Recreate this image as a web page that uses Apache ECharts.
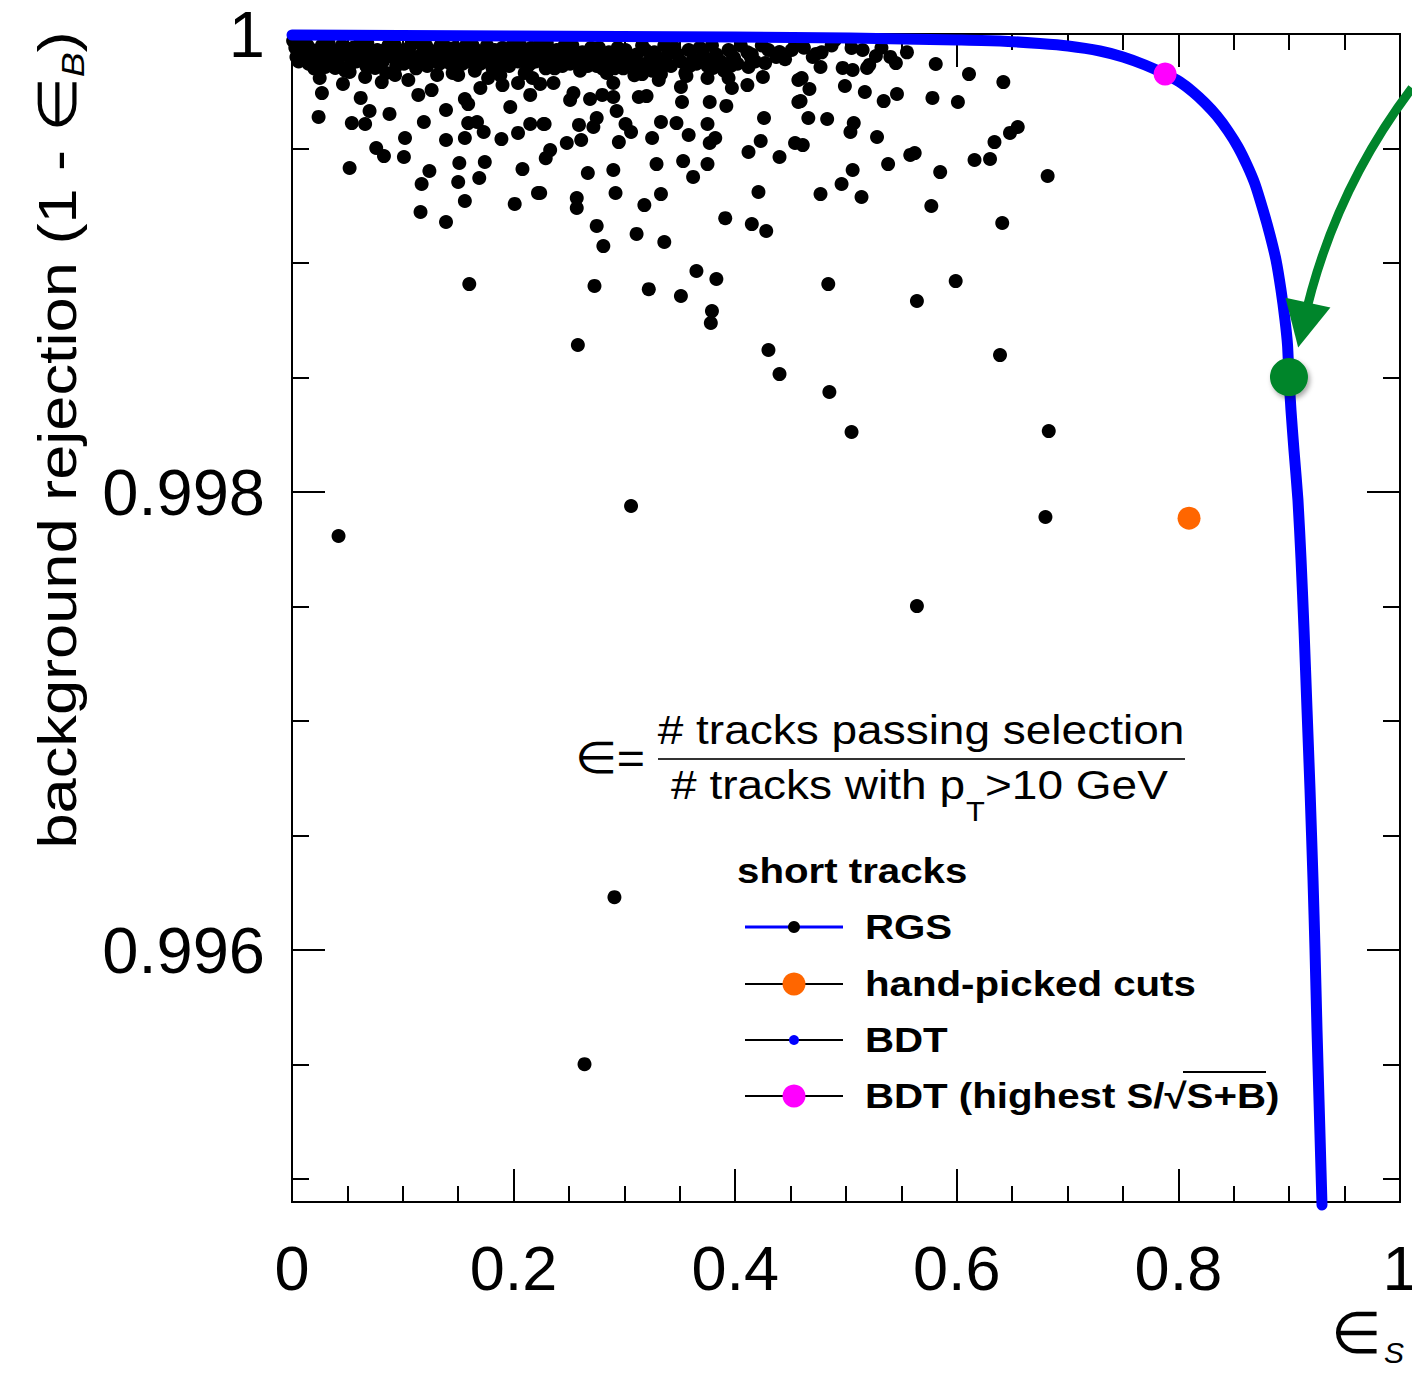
<!DOCTYPE html>
<html><head><meta charset="utf-8">
<script src="https://cdn.jsdelivr.net/npm/echarts@6/dist/echarts.min.js"></script>
<style>html,body{margin:0;padding:0;background:#fff}#c{width:1412px;height:1374px}</style>
</head><body><div id="c"></div>
<script>
// ---- data ----
const xMajorTicks = [0, 0.2, 0.4, 0.6, 0.8, 1];
const yLabelValues = [0.996, 0.998, 1];
const yMinorValues = [0.995, 0.9955, 0.9965, 0.997, 0.9975, 0.9985, 0.999, 0.9995];

// RGS cut points (signal efficiency, background rejection)
const rgsBand = [
 [0.003,0.99994],[0.004,0.99990],[0.010,0.99996],[0.012,0.99989],[0.018,0.99993],[0.021,0.99988],[0.027,0.99995],[0.031,0.99990],
 [0.036,0.99993],[0.041,0.99988],[0.045,0.99995],[0.049,0.99991],[0.055,0.99994],[0.058,0.99988],[0.063,0.99992],[0.068,0.99996],
 [0.072,0.99989],[0.077,0.99993],[0.082,0.99988],[0.087,0.99995],[0.091,0.99990],[0.096,0.99993],[0.101,0.99987],[0.106,0.99994],
 [0.110,0.99990],[0.115,0.99996],[0.119,0.99988],[0.124,0.99993],[0.129,0.99989],[0.134,0.99995],[0.138,0.99991],[0.143,0.99987],
 [0.147,0.99994],[0.152,0.99990],[0.157,0.99995],[0.161,0.99988],[0.166,0.99993],[0.171,0.99989],[0.176,0.99995],[0.180,0.99991],
 [0.185,0.99987],[0.190,0.99994],[0.194,0.99990],[0.199,0.99995],[0.204,0.99988],[0.208,0.99993],[0.213,0.99986],[0.218,0.99991],
 [0.223,0.99995],[0.227,0.99988],[0.232,0.99993],[0.237,0.99985],[0.241,0.99990],[0.246,0.99995],[0.251,0.99987],[0.256,0.99992],
 [0.260,0.99984],[0.265,0.99989],[0.270,0.99994],[0.275,0.99986],[0.279,0.99991],[0.284,0.99983],[0.289,0.99988],[0.294,0.99994],
 [0.299,0.99985],[0.304,0.99990],[0.309,0.99982],[0.314,0.99987],[0.319,0.99993],[0.325,0.99984],[0.330,0.99989],[0.336,0.99995],
 [0.342,0.99986],[0.348,0.99991],[0.355,0.99983],[0.362,0.99989],[0.368,0.99994],[0.375,0.99986],[0.383,0.99991],[0.390,0.99984],
 [0.398,0.99990],[0.405,0.99995],[0.418,0.99988],[0.430,0.99993],[0.445,0.99989],[0.462,0.99994],[0.478,0.99992],
 [0.020,0.99985],[0.048,0.99984],[0.085,0.99983],[0.112,0.99985],[0.145,0.99983],[0.165,0.99984],[0.188,0.99982],[0.210,0.99983],
 [0.001,0.99997],[0.007,0.99992],[0.014,0.99995],[0.016,0.99991],[0.024,0.99992],[0.033,0.99996],[0.038,0.99990],[0.043,0.99992],
 [0.052,0.99990],[0.060,0.99995],[0.066,0.99990],[0.070,0.99993],[0.079,0.99990],[0.084,0.99993],[0.093,0.99995],[0.098,0.99989],
 [0.103,0.99992],[0.108,0.99996],[0.117,0.99991],[0.121,0.99995],[0.126,0.99990],[0.131,0.99992],[0.136,0.99988],[0.140,0.99994],
 [0.149,0.99991],[0.154,0.99987],[0.159,0.99992],[0.163,0.99995],[0.168,0.99990],[0.173,0.99992],[0.178,0.99988],[0.183,0.99993],
 [0.187,0.99990],[0.192,0.99987],[0.197,0.99992],[0.201,0.99990],[0.206,0.99995],[0.211,0.99990],[0.216,0.99994],[0.220,0.99988],
 [0.225,0.99991],[0.230,0.99996],[0.234,0.99989],[0.239,0.99993],[0.244,0.99988],[0.248,0.99992],[0.253,0.99995],[0.258,0.99988],
 [0.262,0.99992],[0.267,0.99986],[0.272,0.99990],[0.277,0.99994],[0.282,0.99988],[0.286,0.99992],[0.291,0.99985],[0.296,0.99990],
 [0.301,0.99993],[0.306,0.99987],[0.311,0.99991],[0.316,0.99995],[0.322,0.99988],[0.327,0.99992],[0.333,0.99986],[0.339,0.99991],
 [0.345,0.99994],[0.351,0.99988],[0.358,0.99993],[0.365,0.99987],[0.371,0.99991],[0.379,0.99995],[0.387,0.99988],[0.394,0.99993],
 [0.402,0.99987],[0.411,0.99992],[0.424,0.99995],[0.437,0.99990],[0.451,0.99993],[0.470,0.99990],[0.487,0.99995],[0.515,0.99993],
 [0.532,0.99994],[0.555,0.99992],
 [0.006,0.99988],[0.015,0.99987],[0.028,0.99988],[0.039,0.99986],[0.053,0.99987],[0.067,0.99986],[0.075,0.99987],[0.094,0.99986],
 [0.107,0.99988],[0.122,0.99986],[0.133,0.99987],[0.150,0.99986],[0.170,0.99987],[0.181,0.99985],[0.196,0.99986],[0.215,0.99987],
 [0.229,0.99985],[0.244,0.99986],[0.263,0.99987],[0.280,0.99985],[0.297,0.99988],[0.317,0.99985],[0.337,0.99987],[0.359,0.99986],
 [0.378,0.99989],[0.396,0.99986],[0.415,0.99991]
];
const rgsScatter = [
 [0.025,0.999808],[0.027,0.999742],[0.024,0.999638],[0.046,0.999782],[0.062,0.999721],[0.070,0.999664],[0.054,0.999611],[0.066,0.999607],
 [0.088,0.999651],[0.076,0.999502],[0.083,0.999467],[0.052,0.999415],[0.102,0.999546],[0.101,0.999463],[0.119,0.999616],[0.124,0.999402],
 [0.117,0.999345],[0.116,0.999223],[0.139,0.999179],[0.139,0.999668],[0.139,0.999537],[0.156,0.999546],[0.151,0.999437],[0.150,0.999354],
 [0.156,0.999271],[0.174,0.999441],[0.169,0.999371],[0.201,0.999258],[0.208,0.999410],[0.222,0.999306],[0.156,0.999716],[0.159,0.999694],
 [0.159,0.999611],[0.167,0.999616],[0.173,0.999572],[0.189,0.999541],[0.197,0.999681],[0.204,0.999568],[0.215,0.999607],[0.227,0.999607],
 [0.215,0.999734],[0.170,0.999764],[0.066,0.999812],[0.081,0.999790],[0.093,0.999821],[0.105,0.999799],[0.114,0.999734],[0.126,0.999755],
 [0.131,0.999821],[0.150,0.999821],[0.177,0.999808],[0.190,0.999777],[0.204,0.999786],[0.217,0.999808],[0.039,0.999852],[0.030,0.999856],
 [0.052,0.999834],[0.075,0.999852],
 [0.228,0.999607],[0.233,0.999493],[0.229,0.999458],[0.224,0.999306],[0.248,0.999524],[0.261,0.999537],[0.259,0.999603],[0.272,0.999594],
 [0.275,0.999633],[0.251,0.999712],[0.254,0.999742],[0.269,0.999716],[0.280,0.999734],[0.290,0.999725],[0.236,0.999786],[0.224,0.999782],
 [0.267,0.999393],[0.290,0.999406],[0.292,0.999306],[0.257,0.999284],[0.257,0.999240],[0.275,0.999162],[0.281,0.999074],[0.293,0.999664],
 [0.301,0.999607],[0.306,0.999572],[0.295,0.999528],[0.290,0.999786],[0.316,0.999825],[0.313,0.999725],[0.320,0.999729],[0.333,0.999825],
 [0.331,0.999799],[0.333,0.999616],[0.347,0.999611],[0.325,0.999546],[0.329,0.999432],[0.333,0.999301],[0.318,0.999253],[0.311,0.999127],
 [0.336,0.999092],[0.352,0.999703],[0.351,0.999769],[0.356,0.999817],[0.358,0.999559],[0.353,0.999445],[0.362,0.999376],[0.375,0.999432],
 [0.375,0.999607],[0.377,0.999524],[0.382,0.999546],[0.377,0.999703],[0.375,0.999808],[0.380,0.999852],[0.392,0.999686],[0.394,0.999808],
 [0.397,0.999764],[0.399,0.999895],[0.411,0.999777],[0.412,0.999856],[0.414,0.999900],[0.425,0.999812],[0.427,0.999873],[0.426,0.999633],
 [0.423,0.999533],[0.412,0.999485],[0.440,0.999463],[0.421,0.999310],[0.391,0.999196],[0.415,0.999170],[0.428,0.999140],[0.454,0.999524],
 [0.457,0.999703],[0.457,0.999799],[0.440,0.999921],[0.454,0.999952],
 [0.473,0.999913],[0.477,0.999856],[0.460,0.999808],[0.467,0.999760],[0.459,0.999707],[0.466,0.999633],[0.483,0.999629],[0.461,0.999515],
 [0.505,0.999939],[0.497,0.999852],[0.506,0.999843],[0.519,0.999852],[0.521,0.999865],[0.527,0.999904],[0.540,0.999900],[0.545,0.999873],
 [0.499,0.999773],[0.517,0.999747],[0.534,0.999707],[0.546,0.999738],[0.507,0.999611],[0.504,0.999572],[0.528,0.999550],[0.506,0.999406],
 [0.496,0.999345],[0.477,0.999301],[0.514,0.999288],[0.538,0.999432],[0.558,0.999472],[0.562,0.999480],[0.581,0.999869],[0.578,0.999721],
 [0.585,0.999397],[0.577,0.999249],[0.601,0.999703],[0.611,0.999825],[0.616,0.999450],[0.630,0.999454],[0.634,0.999528],[0.648,0.999568],
 [0.655,0.999594],[0.642,0.999790],[0.641,0.999175],[0.682,0.999380],[0.490,0.999974],
 [0.160,0.998908],[0.258,0.998642],[0.273,0.998900],[0.322,0.998886],[0.351,0.998856],[0.365,0.998965],[0.383,0.998930],[0.379,0.998790],
 [0.378,0.998738],[0.430,0.998620],[0.440,0.998515],[0.484,0.998908],[0.485,0.998437],[0.505,0.998262],[0.564,0.998834],[0.599,0.998921],
 [0.639,0.998598],[0.683,0.998266],[0.306,0.997939],[0.680,0.997891],[0.042,0.997808],[0.564,0.997502],[0.291,0.996231],[0.264,0.995502]
];

// BDT curve (signal efficiency, background rejection)
const bdtCurve = [
 [0,0.9999956],[0.0975,0.9999934],[0.2,0.9999913],[0.296,0.9999891],[0.4,0.999987],[0.5036,0.9999825],[0.6,0.9999738],
 [0.639,0.9999694],[0.675,0.9999585],[0.7004,0.9999476],[0.7292,0.9999258],[0.75,0.9998996],[0.7699,0.9998646],[0.7879,0.9998253],
 [0.8014,0.9997904],[0.8132,0.9997467],[0.824,0.9996987],[0.8348,0.9996419],[0.8448,0.9995764],[0.8538,0.9995066],[0.8619,0.9994279],
 [0.8691,0.999345],[0.8764,0.9992314],[0.8827,0.9991223],[0.8881,0.9990131],[0.8926,0.9988821],[0.8962,0.9987511],[0.8985,0.9986419],
 [0.8998,0.9985022],[0.9016,0.9983581],[0.9043,0.9981834],[0.9079,0.9979651],[0.9107,0.997703],[0.9134,0.9973974],[0.9161,0.997048],
 [0.9188,0.9966987],[0.9215,0.9963057],[0.9233,0.996],[0.9251,0.9956507],[0.9269,0.995345],[0.9287,0.9950393],[0.9296,0.9948865]
];
const handPicked = [[0.8096, 0.997886]];
const bdtBest = [[0.788, 0.999825]];
const chosenPoint = [[0.8998, 0.998502]];
const arrowEnds = [[1.0108, 0.999764], [0.9125, 0.998729]];

const legendNames = ['RGS', 'hand-picked cuts', 'BDT', 'BDT (highest S/\u221AS+B)'];

// ---- chart ----
const FF = '"Liberation Sans", Arial, Helvetica, sans-serif';
const GREEN = '#00852b';
const chart = echarts.init(document.getElementById('c'), null, {renderer: 'svg'});

const tickLine = {color: '#000', width: 2};
const axisLine = {show: true, onZero: false, lineStyle: {color: '#000', width: 2}};
const yBase = {type: 'value', min: 0.9949, max: 1, scale: true, splitLine: {show: false}, axisLine: axisLine};
const xBase = {type: 'value', min: 0, max: 1, interval: 0.2, splitLine: {show: false}, axisLine: axisLine,
  axisTick: {inside: true, length: 33, lineStyle: tickLine},
  minorTick: {show: true, splitNumber: 4, length: 16, lineStyle: {color: '#000', width: 2}},
  minorSplitLine: {show: false}};

const legendY = [927, 984, 1040, 1096];
const legendLineColor = ['#0000ff', '#000', '#000', '#000'];
const legendDot = [['#000', 6], ['#ff6600', 11.5], ['#0000ff', 5], ['#ff00ff', 11.5]];
const graphics = [];
legendNames.forEach((n, i) => {
  graphics.push({type: 'line', shape: {x1: 745, y1: legendY[i], x2: 843, y2: legendY[i]},
    style: {stroke: legendLineColor[i], lineWidth: i === 0 ? 3 : 2}});
  graphics.push({type: 'circle', shape: {cx: 794, cy: legendY[i], r: legendDot[i][1]}, style: {fill: legendDot[i][0]}});
  graphics.push({type: 'text', x: 865, y: legendY[i], scaleX: 1.15,
    style: {text: n, font: 'bold 35px ' + FF, fill: '#000', textAlign: 'left', textVerticalAlign: 'middle'}});
});
graphics.push({type: 'line', shape: {x1: 1183, y1: 1072, x2: 1266, y2: 1072}, style: {stroke: '#000', lineWidth: 2}});
graphics.push({type: 'text', x: 737, y: 871, scaleX: 1.15,
  style: {text: 'short tracks', font: 'bold 35px ' + FF, fill: '#000', textAlign: 'left', textVerticalAlign: 'middle'}});
// formula
graphics.push({type: 'text', x: 645, y: 758, scaleX: 1.1,
  style: {text: '\u2208=', font: '44px ' + FF, fill: '#000', textAlign: 'right', textVerticalAlign: 'middle'}});
graphics.push({type: 'text', x: 921, y: 730, scaleX: 1.15,
  style: {text: '# tracks passing selection', font: '40px ' + FF, fill: '#000', textAlign: 'center', textVerticalAlign: 'middle'}});
graphics.push({type: 'line', shape: {x1: 658, y1: 759, x2: 1185, y2: 759}, style: {stroke: '#333', lineWidth: 2}});
graphics.push({type: 'text', x: 965, y: 785, scaleX: 1.15,
  style: {text: '# tracks with p', font: '40px ' + FF, fill: '#000', textAlign: 'right', textVerticalAlign: 'middle'}});
graphics.push({type: 'text', x: 966, y: 811, scaleX: 1.1,
  style: {text: 'T', font: '28px ' + FF, fill: '#000', textAlign: 'left', textVerticalAlign: 'middle'}});
graphics.push({type: 'text', x: 985, y: 785, scaleX: 1.15,
  style: {text: '>10 GeV', font: '40px ' + FF, fill: '#000', textAlign: 'left', textVerticalAlign: 'middle'}});
// y axis title
graphics.push({type: 'text', x: 57, y: 440, rotation: Math.PI / 2, scaleX: 1.17,
  style: {text: '{n|background rejection (1 - \u2208}{s|B}{n|)}', textAlign: 'center', textVerticalAlign: 'middle',
    rich: {n: {fontSize: 54, fontFamily: FF, fill: '#000', lineHeight: 64, verticalAlign: 'middle'},
           s: {fontSize: 32, fontFamily: FF, fontStyle: 'italic', fill: '#000', lineHeight: 64, verticalAlign: 'bottom'}}}});
// x axis title
graphics.push({type: 'text', x: 1356, y: 1332,
  style: {text: '\u2208', font: '58px ' + FF, fill: '#000', textAlign: 'center', textVerticalAlign: 'middle'}});
graphics.push({type: 'text', x: 1394, y: 1352,
  style: {text: 'S', font: 'italic 30px ' + FF, fill: '#000', textAlign: 'center', textVerticalAlign: 'middle'}});

const option = {
  backgroundColor: '#fff',
  animation: false,
  grid: {left: 292, top: 34, width: 1108, height: 1168, show: false, containLabel: false, outerBoundsMode: 'none'},
  xAxis: [
    Object.assign({}, xBase, {position: 'bottom',
      axisLabel: {fontSize: 63, fontFamily: FF, color: '#000', margin: 34,
        formatter: v => xMajorTicks.includes(+v.toFixed(2)) ? String(+v.toFixed(1)) : ''}}),
    Object.assign({}, xBase, {position: 'top', axisLabel: {show: false}})
  ],
  yAxis: [
    Object.assign({}, yBase, {position: 'left',
      axisTick: {inside: true, length: 33, customValues: yLabelValues, lineStyle: tickLine},
      axisLabel: {customValues: yLabelValues, fontSize: 65, lineHeight: 46, fontFamily: FF, color: '#000', margin: 27,
        padding: [8, 0, 0, 0],
        formatter: v => (Math.abs(v - 1) < 1e-9 ? '1' : v.toFixed(3))}}),
    Object.assign({}, yBase, {position: 'left',
      axisTick: {inside: true, length: 17, customValues: yMinorValues, lineStyle: tickLine}, axisLabel: {show: false}}),
    Object.assign({}, yBase, {position: 'right',
      axisTick: {inside: true, length: 33, customValues: yLabelValues, lineStyle: tickLine}, axisLabel: {show: false}}),
    Object.assign({}, yBase, {position: 'right',
      axisTick: {inside: true, length: 17, customValues: yMinorValues, lineStyle: tickLine}, axisLabel: {show: false}})
  ],
  series: [
    {name: 'RGS', type: 'scatter', data: rgsBand.concat(rgsScatter), symbolSize: 14, itemStyle: {color: '#000', opacity: 1}, z: 2, silent: true},
    {name: 'BDT', type: 'line', data: bdtCurve, showSymbol: false, smooth: 0.2, clip: false,
      lineStyle: {color: '#0000ff', width: 11, cap: 'round', join: 'round'}, z: 3, silent: true},
    {name: 'hand-picked cuts', type: 'scatter', data: handPicked, symbolSize: 23, itemStyle: {color: '#ff6600', opacity: 1}, z: 4, silent: true},
    {name: 'BDT (highest S/\u221AS+B)', type: 'scatter', data: bdtBest, symbolSize: 23, itemStyle: {color: '#ff00ff', opacity: 1}, z: 4, silent: true},
    {name: 'chosen', type: 'scatter', data: chosenPoint, symbolSize: 38,
      itemStyle: {color: GREEN, opacity: 1, shadowBlur: 5, shadowColor: 'rgba(0,0,0,0.35)', shadowOffsetX: 2, shadowOffsetY: 3}, z: 5, silent: true},
    {name: 'arrow', type: 'lines', coordinateSystem: 'cartesian2d', clip: false, silent: true, z: 6,
      symbol: ['none', 'triangle'], symbolSize: [40, 46],
      lineStyle: {color: GREEN, width: 9, opacity: 1, curveness: -0.11},
      data: [{coords: arrowEnds}]}
  ],
  graphic: graphics
};
chart.setOption(option);
</script>
</body></html>
